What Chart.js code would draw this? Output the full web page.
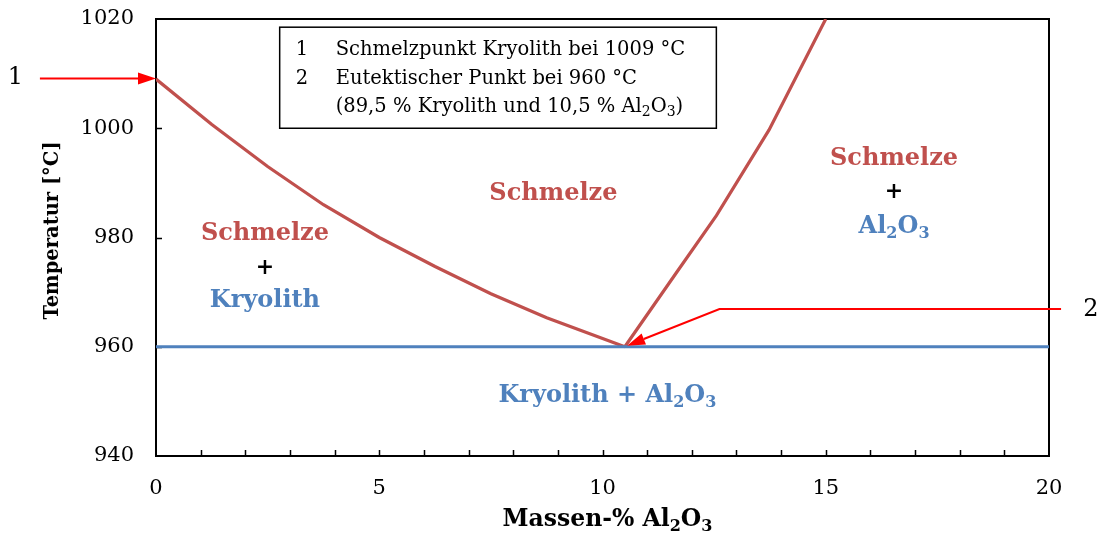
<!DOCTYPE html>
<html>
<head>
<meta charset="utf-8">
<script src="https://cdn.jsdelivr.net/npm/chart.js@4/dist/chart.umd.min.js"></script>
<style>
  html, body { margin: 0; padding: 0; background: #fff; }
  #wrap { width: 1102px; height: 537px; }
</style>
</head>
<body>
<div id="wrap"><canvas id="phase"></canvas></div>
<script>
// Liquidus on the cryolite side (Massen-% Al2O3 / °C)
const kryoX = [0, 1.25, 2.5, 3.75, 5, 6.25, 7.5, 8.75, 10.5];
const kryoT = [1009, 1000.7, 993, 986, 980, 974.7, 969.7, 965.3, 960];
// Liquidus on the alumina side
const aluX = [10.5, 11.65, 12.55, 13.73, 15];
const aluT = [960, 973.5, 984, 999.7, 1020];
// Eutectic line
const eutX = [0, 20];
const eutT = [960, 960];

// Tick labels
const xTicks = [0, 5, 10, 15, 20];
const yTicks = [940, 960, 980, 1000, 1020];

const RED = '#C0504D';
const BLUE = '#4F81BD';
const SERIF = '"DejaVu Serif", serif';

const toPts = (xs, ys) => xs.map((v, i) => ({ x: v, y: ys[i] }));

// draw text made of parts [text, isSubscript]
function richText(ctx, parts, cx, cy, size, weight, color) {
  const subSize = Math.round(size * 0.68);
  let total = 0;
  parts.forEach(p => {
    ctx.font = `${weight} ${p[1] ? subSize : size}px ${SERIF}`;
    total += ctx.measureText(p[0]).width;
  });
  let xx = cx - total / 2;
  ctx.fillStyle = color;
  ctx.textBaseline = 'middle';
  ctx.textAlign = 'left';
  parts.forEach(p => {
    ctx.font = `${weight} ${p[1] ? subSize : size}px ${SERIF}`;
    ctx.fillText(p[0], xx, p[1] ? cy + size * 0.3 : cy);
    xx += ctx.measureText(p[0]).width;
  });
}

function arrow(ctx, pts) {
  ctx.save();
  ctx.strokeStyle = '#FF0000';
  ctx.fillStyle = '#FF0000';
  ctx.lineWidth = 2;
  const n = pts.length;
  const [tx, ty] = pts[n - 1];
  const [px, py] = pts[n - 2];
  const ang = Math.atan2(ty - py, tx - px);
  const len = 18, hw = 6;
  const bx = tx - len * Math.cos(ang), by = ty - len * Math.sin(ang);
  ctx.beginPath();
  ctx.moveTo(pts[0][0], pts[0][1]);
  for (let i = 1; i < n - 1; i++) ctx.lineTo(pts[i][0], pts[i][1]);
  ctx.lineTo(bx, by);
  ctx.stroke();
  ctx.beginPath();
  ctx.moveTo(tx, ty);
  ctx.lineTo(bx - hw * Math.sin(ang), by + hw * Math.cos(ang));
  ctx.lineTo(bx + hw * Math.sin(ang), by - hw * Math.cos(ang));
  ctx.closePath();
  ctx.fill();
  ctx.restore();
}

const decor = {
  id: 'decor',
  beforeDatasetsDraw(chart) {
    const { ctx, chartArea: a, scales: { x, y } } = chart;
    ctx.save();
    ctx.strokeStyle = '#000';
    ctx.lineWidth = 2;
    ctx.strokeRect(a.left, a.top, a.width, a.height);
    // inner ticks
    ctx.beginPath();
    for (let v = 1; v < 20; v++) {
      const px = Math.round(x.getPixelForValue(v)) + 0.5;
      ctx.moveTo(px, a.bottom);
      ctx.lineTo(px, a.bottom - 6);
    }
    yTicks.slice(1, -1).forEach(v => {
      const py = Math.round(y.getPixelForValue(v)) + 0.5;
      ctx.moveTo(a.left, py);
      ctx.lineTo(a.left + 6, py);
    });
    ctx.lineWidth = 1.5;
    ctx.stroke();
    ctx.restore();
  },
  afterDatasetsDraw(chart) {
    const { ctx, chartArea: a, scales: { x, y } } = chart;
    const X = v => x.getPixelForValue(v), Y = v => y.getPixelForValue(v);
    ctx.save();

    // region labels
    richText(ctx, [['Schmelze']], X(8.9), Y(988), 24, 'bold', RED);
    richText(ctx, [['Schmelze']], X(2.44), Y(980.6), 24, 'bold', RED);
    richText(ctx, [['+']], X(2.44), Y(974.4), 22, 'bold', '#000');
    richText(ctx, [['Kryolith']], X(2.44), Y(968.4), 24, 'bold', BLUE);
    richText(ctx, [['Schmelze']], X(16.53), Y(994.5), 24, 'bold', RED);
    richText(ctx, [['+']], X(16.53), Y(988.3), 22, 'bold', '#000');
    richText(ctx, [['Al'], ['2', 1], ['O'], ['3', 1]], X(16.53), Y(981.9), 24, 'bold', BLUE);
    richText(ctx, [['Kryolith + Al'], ['2', 1], ['O'], ['3', 1]], X(10.11), Y(951.1), 24, 'bold', BLUE);

    // note box
    const bl = X(2.77), bt = Y(1018.5), br = X(12.55), bb = Y(1000);
    ctx.fillStyle = '#fff';
    ctx.fillRect(bl, bt, br - bl, bb - bt);
    ctx.strokeStyle = '#000';
    ctx.lineWidth = 1.5;
    ctx.strokeRect(bl, bt, br - bl, bb - bt);
    ctx.font = `19.5px ${SERIF}`;
    ctx.fillStyle = '#000';
    ctx.textAlign = 'left';
    ctx.textBaseline = 'middle';
    ctx.fillText('1', bl + 16, bt + 23);
    ctx.fillText('Schmelzpunkt Kryolith bei 1009 °C', bl + 56, bt + 23);
    ctx.fillText('2', bl + 16, bt + 52);
    ctx.fillText('Eutektischer Punkt bei 960 °C', bl + 56, bt + 52);
    // third row with subscripts
    let xx = bl + 56;
    const row3 = [['(89,5 % Kryolith und 10,5 % Al'], ['2', 1], ['O'], ['3', 1], [')']];
    row3.forEach(p => {
      ctx.font = `${p[1] ? 14 : 19.5}px ${SERIF}`;
      ctx.fillText(p[0], xx, bt + 80 + (p[1] ? 5 : 0));
      xx += ctx.measureText(p[0]).width;
    });

    // arrows and their numbers
    arrow(ctx, [[X(-2.6), Y(1009.1)], [X(0), Y(1009.1)]]);
    arrow(ctx, [[X(20.27), Y(966.9)], [X(12.62), Y(966.9)], [X(10.55), Y(960.2)]]);
    ctx.font = `24px ${SERIF}`;
    ctx.fillStyle = '#000';
    ctx.textAlign = 'center';
    ctx.fillText('1', X(-3.15), Y(1009.2));
    ctx.fillText('2', X(20.94), Y(966.7));

    // axis titles
    richText(ctx, [['Massen-% Al'], ['2', 1], ['O'], ['3', 1]], (a.left + a.right) / 2 + 5, 520, 23.5, 'bold', '#000');
    ctx.save();
    ctx.translate(53, (a.top + a.bottom) / 2 - 7);
    ctx.rotate(-Math.PI / 2);
    richText(ctx, [['Temperatur [°C]']], 0, 0, 19.5, 'bold', '#000');
    ctx.restore();

    ctx.restore();
  }
};

const lineSet = (label, data, color) => ({
  label, data,
  borderColor: color,
  borderWidth: 3.2,
  showLine: true,
  pointRadius: 0,
  tension: 0,
  fill: false
});

new Chart(document.getElementById('phase'), {
  type: 'scatter',
  data: {
    datasets: [
      lineSet('Eutektikale', toPts(eutX, eutT), BLUE),
      lineSet('Liquidus Kryolith', toPts(kryoX, kryoT), RED),
      lineSet('Liquidus Al2O3', toPts(aluX, aluT), RED)
    ]
  },
  options: {
    responsive: true,
    maintainAspectRatio: false,
    animation: false,
    layout: { padding: { top: 19, right: 53, left: 0, bottom: 0 } },
    plugins: {
      legend: { display: false },
      tooltip: { enabled: false }
    },
    scales: {
      x: {
        type: 'linear', min: 0, max: 20,
        grid: { display: false, drawTicks: false },
        border: { display: false },
        afterBuildTicks: s => { s.ticks = xTicks.map(v => ({ value: v })); },
        afterFit: s => { s.height = 81; s.paddingLeft = 0; s.paddingRight = 0; },
        ticks: { padding: 20, color: '#000', font: { family: SERIF, size: 21 }, maxRotation: 0,
                 callback: v => String(v) }
      },
      y: {
        type: 'linear', min: 940, max: 1020,
        grid: { display: false, drawTicks: false },
        border: { display: false },
        afterBuildTicks: s => { s.ticks = yTicks.map(v => ({ value: v })); },
        afterFit: s => { s.width = 156; s.paddingTop = 0; s.paddingBottom = 0; },
        ticks: { padding: 22, color: '#000', font: { family: SERIF, size: 21 },
                 callback: v => String(v) }
      }
    }
  },
  plugins: [decor]
});
</script>
</body>
</html>
